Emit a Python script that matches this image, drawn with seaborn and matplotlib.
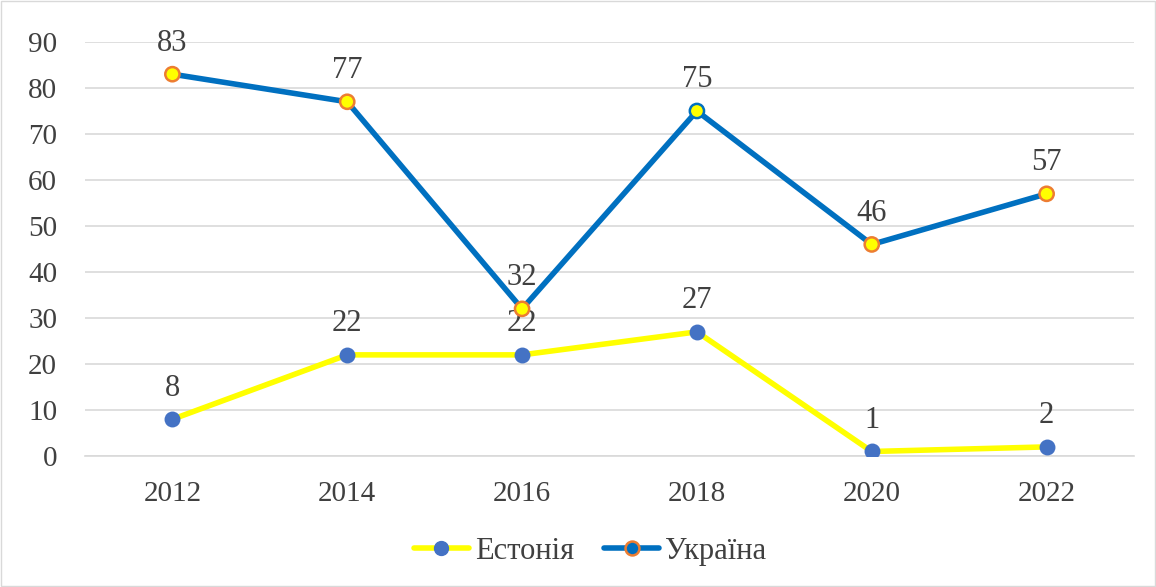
import matplotlib
matplotlib.use("Agg")
import matplotlib.pyplot as plt
import seaborn as sns
import pandas as pd
from matplotlib.lines import Line2D
from matplotlib.patches import Rectangle

years = ["2012", "2014", "2016", "2018", "2020", "2022"]
estonia = [8, 22, 22, 27, 1, 2]
ukraine = [83, 77, 32, 75, 46, 57]
ukraine_edge = ["#ED7D31", "#ED7D31", "#ED7D31", "#0070C0", "#ED7D31", "#ED7D31"]

sns.set_style("white")
plt.rcParams['font.family'] = ['Liberation Serif', 'DejaVu Serif']

fig = plt.figure(figsize=(11.56, 5.87), dpi=100)
ax = fig.add_axes([0.0735, 0.223, 0.9075, 0.7055])

pos = list(range(len(years)))
df = pd.DataFrame({"pos": pos * 2,
                   "value": estonia + ukraine,
                   "series": ["Естонія"] * 6 + ["Україна"] * 6})

sns.lineplot(data=df, x="pos", y="value", hue="series",
             palette={"Естонія": "#FFFF00", "Україна": "#0070C0"},
             linewidth=4, ax=ax, legend=False, zorder=3)
sns.scatterplot(x=pos, y=estonia, ax=ax, s=105, color="#4472C4",
                edgecolor="#4472C4", linewidth=1.2, zorder=4, legend=False)
sns.scatterplot(x=pos, y=ukraine, ax=ax, s=105, color="#FFFF00",
                edgecolor=ukraine_edge, linewidth=1.8, zorder=4, legend=False)

for p, v in zip(pos, estonia):
    ax.annotate(str(v), (p, v), xytext=(0, 12), textcoords="offset points",
                ha="center", va="bottom", fontsize=22, color="#404040")
for p, v in zip(pos, ukraine):
    ax.annotate(str(v), (p, v), xytext=(0, 12), textcoords="offset points",
                ha="center", va="bottom", fontsize=22, color="#404040")

ax.set_xlim(-0.5, 5.5)
ax.set_ylim(0, 90)
ax.set_yticks(range(0, 91, 10))
ax.set_xticks(pos)
ax.set_xticklabels(years)
ax.set_xlabel("")
ax.set_ylabel("")
ax.grid(axis="y", color="#D9D9D9", linewidth=1.2)
ax.set_axisbelow(True)
for s in ["top", "right", "left"]:
    ax.spines[s].set_visible(False)
ax.spines["bottom"].set_color("#D9D9D9")
ax.spines["bottom"].set_linewidth(1.2)
ax.tick_params(axis="both", length=0, labelsize=21, labelcolor="#404040")
ax.tick_params(axis="y", pad=20)
ax.tick_params(axis="x", pad=18)

handles = [
    Line2D([0], [0], color="#FFFF00", lw=4, marker="o", markersize=10,
           markerfacecolor="#4472C4", markeredgecolor="#4472C4"),
    Line2D([0], [0], color="#0070C0", lw=4, marker="o", markersize=10,
           markerfacecolor="#0070C0", markeredgecolor="#ED7D31", markeredgewidth=1.8),
]
fig.legend(handles, ["Естонія", "Україна"], loc="center", bbox_to_anchor=(0.5104, 0.061),
           ncol=2, frameon=False, fontsize=22, labelcolor="#404040",
           handlelength=1.8, columnspacing=1.0, handletextpad=0.2)

fig.add_artist(Rectangle((0.001, 0.001), 0.998, 0.997, transform=fig.transFigure,
                         fill=False, edgecolor="#D9D9D9", linewidth=1))

fig.savefig("out.png", dpi=100, facecolor="white")
